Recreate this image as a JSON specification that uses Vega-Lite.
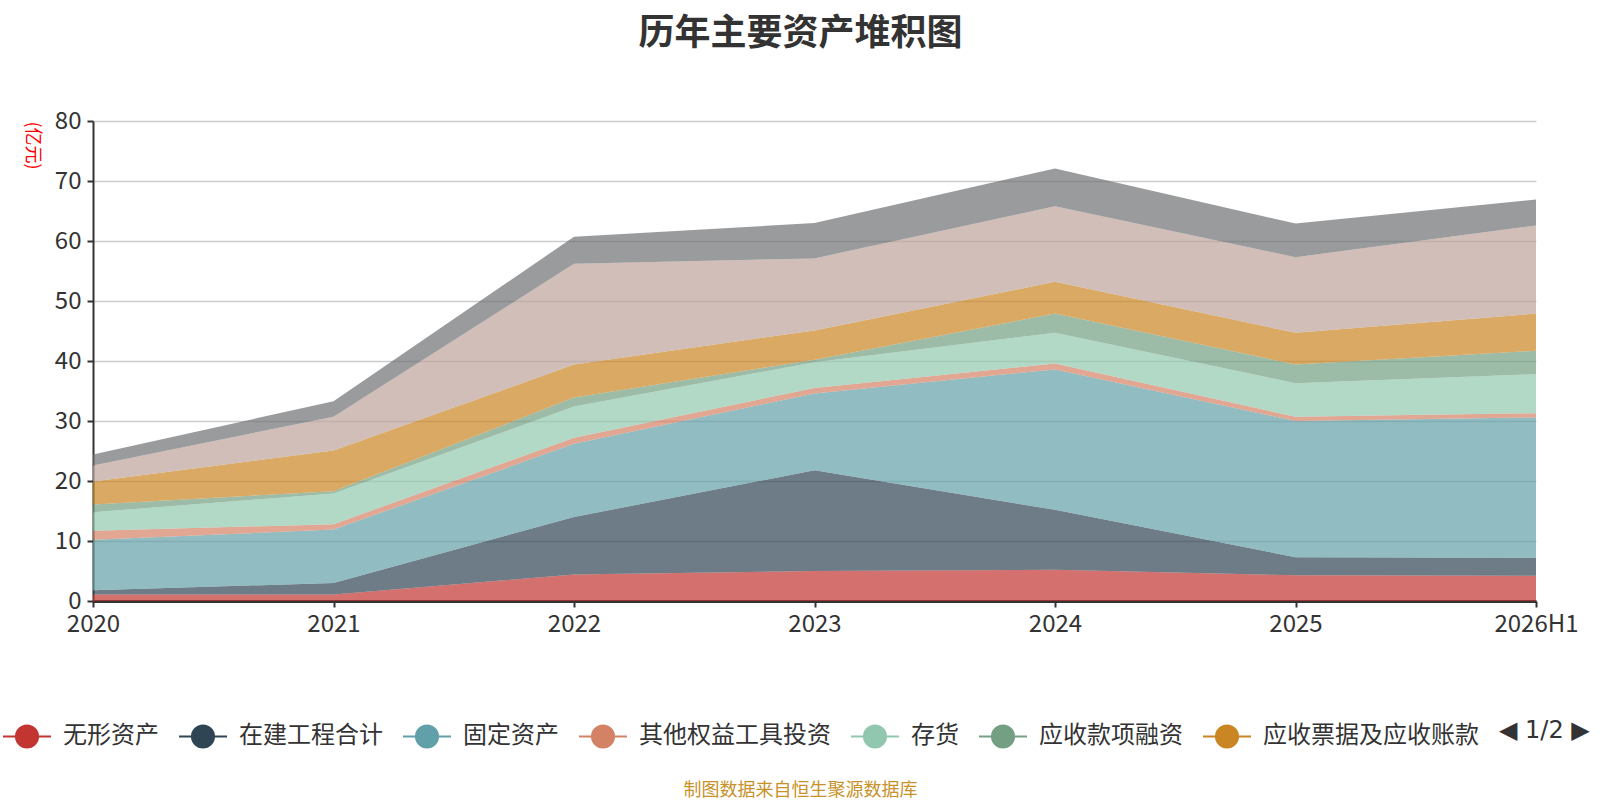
{
  "$schema": "https://vega.github.io/schema/vega-lite/v6.json",
  "width": 1443,
  "height": 480,
  "autosize": {"type": "none"},
  "padding": {"left": 93, "top": 121, "right": 64, "bottom": 199},
  "background": "white",
  "title": {
    "text": "历年主要资产堆积图",
    "fontSize": 36,
    "fontWeight": "bold",
    "font": "Noto Sans CJK SC",
    "color": "#333333",
    "anchor": "middle",
    "dx": -14,
    "offset": 56
  },
  "config": {
    "font": "Noto Sans CJK SC",
    "view": {"stroke": null},
    "axis": {"labelFont": "Noto Sans CJK SC", "titleFont": "Noto Sans CJK SC"}
  },
  "data": {
    "values": [
      {"year": "2020", "item": "无形资产", "value": 1.1},
      {"year": "2020", "item": "在建工程合计", "value": 0.7},
      {"year": "2020", "item": "固定资产", "value": 8.4},
      {"year": "2020", "item": "其他权益工具投资", "value": 1.5},
      {"year": "2020", "item": "存货", "value": 3.1},
      {"year": "2020", "item": "应收款项融资", "value": 1.3},
      {"year": "2020", "item": "应收票据及应收账款", "value": 3.8},
      {"year": "2020", "item": "交易性金融资产", "value": 2.7},
      {"year": "2020", "item": "货币资金", "value": 1.8},
      {"year": "2021", "item": "无形资产", "value": 1.1},
      {"year": "2021", "item": "在建工程合计", "value": 1.9},
      {"year": "2021", "item": "固定资产", "value": 8.9},
      {"year": "2021", "item": "其他权益工具投资", "value": 0.9},
      {"year": "2021", "item": "存货", "value": 5.1},
      {"year": "2021", "item": "应收款项融资", "value": 0.4},
      {"year": "2021", "item": "应收票据及应收账款", "value": 6.8},
      {"year": "2021", "item": "交易性金融资产", "value": 5.6},
      {"year": "2021", "item": "货币资金", "value": 2.6},
      {"year": "2022", "item": "无形资产", "value": 4.4},
      {"year": "2022", "item": "在建工程合计", "value": 9.6},
      {"year": "2022", "item": "固定资产", "value": 12.2},
      {"year": "2022", "item": "其他权益工具投资", "value": 1.0},
      {"year": "2022", "item": "存货", "value": 5.2},
      {"year": "2022", "item": "应收款项融资", "value": 1.5},
      {"year": "2022", "item": "应收票据及应收账款", "value": 5.5},
      {"year": "2022", "item": "交易性金融资产", "value": 16.8},
      {"year": "2022", "item": "货币资金", "value": 4.5},
      {"year": "2023", "item": "无形资产", "value": 5.0},
      {"year": "2023", "item": "在建工程合计", "value": 16.8},
      {"year": "2023", "item": "固定资产", "value": 12.8},
      {"year": "2023", "item": "其他权益工具投资", "value": 0.9},
      {"year": "2023", "item": "存货", "value": 4.3},
      {"year": "2023", "item": "应收款项融资", "value": 0.4},
      {"year": "2023", "item": "应收票据及应收账款", "value": 4.9},
      {"year": "2023", "item": "交易性金融资产", "value": 12.0},
      {"year": "2023", "item": "货币资金", "value": 5.9},
      {"year": "2024", "item": "无形资产", "value": 5.2},
      {"year": "2024", "item": "在建工程合计", "value": 10.0},
      {"year": "2024", "item": "固定资产", "value": 23.4},
      {"year": "2024", "item": "其他权益工具投资", "value": 1.0},
      {"year": "2024", "item": "存货", "value": 5.1},
      {"year": "2024", "item": "应收款项融资", "value": 3.2},
      {"year": "2024", "item": "应收票据及应收账款", "value": 5.3},
      {"year": "2024", "item": "交易性金融资产", "value": 12.6},
      {"year": "2024", "item": "货币资金", "value": 6.3},
      {"year": "2025", "item": "无形资产", "value": 4.3},
      {"year": "2025", "item": "在建工程合计", "value": 3.0},
      {"year": "2025", "item": "固定资产", "value": 22.7},
      {"year": "2025", "item": "其他权益工具投资", "value": 0.7},
      {"year": "2025", "item": "存货", "value": 5.6},
      {"year": "2025", "item": "应收款项融资", "value": 3.1},
      {"year": "2025", "item": "应收票据及应收账款", "value": 5.3},
      {"year": "2025", "item": "交易性金融资产", "value": 12.6},
      {"year": "2025", "item": "货币资金", "value": 5.6},
      {"year": "2026H1", "item": "无形资产", "value": 4.2},
      {"year": "2026H1", "item": "在建工程合计", "value": 3.0},
      {"year": "2026H1", "item": "固定资产", "value": 23.4},
      {"year": "2026H1", "item": "其他权益工具投资", "value": 0.7},
      {"year": "2026H1", "item": "存货", "value": 6.5},
      {"year": "2026H1", "item": "应收款项融资", "value": 3.9},
      {"year": "2026H1", "item": "应收票据及应收账款", "value": 6.2},
      {"year": "2026H1", "item": "交易性金融资产", "value": 14.7},
      {"year": "2026H1", "item": "货币资金", "value": 4.3}
    ]
  },
  "transform": [
    {"calculate": "indexof(['无形资产', '在建工程合计', '固定资产', '其他权益工具投资', '存货', '应收款项融资', '应收票据及应收账款', '交易性金融资产', '货币资金'], datum.item)", "as": "layer_rank"}
  ],
  "mark": {"type": "area", "fillOpacity": 0.7, "strokeWidth": 0},
  "encoding": {
    "x": {
      "field": "year",
      "type": "ordinal",
      "scale": {"type": "point", "padding": 0},
      "axis": {
        "labelAngle": 0,
        "labelFontSize": 24,
        "labelColor": "#333333",
        "labelPadding": 5,
        "domainColor": "#333333",
        "domainWidth": 3,
        "tickColor": "#333333",
        "tickWidth": 2,
        "tickSize": 6,
        "grid": false,
        "title": "制图数据来自恒生聚源数据库",
        "titleColor": "#c8922a",
        "titleFontSize": 18,
        "titleFontWeight": "normal",
        "titleX": 707,
        "titleY": 189,
        "titleBaseline": "middle",
        "titleAlign": "center"
      }
    },
    "y": {
      "field": "value",
      "type": "quantitative",
      "stack": "zero",
      "scale": {"domain": [0, 80], "nice": false},
      "axis": {
        "values": [0, 10, 20, 30, 40, 50, 60, 70, 80],
        "labelFontSize": 24,
        "labelColor": "#333333",
        "labelPadding": 6,
        "domainColor": "#333333",
        "domainWidth": 2,
        "tickColor": "#333333",
        "tickWidth": 2,
        "tickSize": 6,
        "gridColor": "#cccccc",
        "gridWidth": 1.5,
        "title": "(亿元)",
        "titleColor": "#ff0000",
        "titleFontSize": 18,
        "titleFontWeight": "normal",
        "titleAngle": 90,
        "titleX": -62,
        "titleY": 24,
        "titleAlign": "center",
        "titleBaseline": "middle"
      }
    },
    "color": {
      "field": "item",
      "type": "nominal",
      "sort": ["无形资产", "在建工程合计", "固定资产", "其他权益工具投资", "存货", "应收款项融资", "应收票据及应收账款", "交易性金融资产", "货币资金"],
      "scale": {
        "domain": ["无形资产", "在建工程合计", "固定资产", "其他权益工具投资", "存货", "应收款项融资", "应收票据及应收账款", "交易性金融资产", "货币资金"],
        "range": ["#c23531", "#2f4554", "#61a0a8", "#d48265", "#91c7ae", "#749f83", "#ca8622", "#bda29a", "#6e7074"]
      },
      "legend": {
        "orient": "none",
        "direction": "horizontal",
        "legendX": -91,
        "legendY": 590,
        "title": "◀ 1/2 ▶",
        "titleOrient": "right",
        "titleFont": "DejaVu Sans",
        "titleFontSize": 24,
        "titleFontWeight": "normal",
        "titleColor": "#333333",
        "titlePadding": 20,
        "titleBaseline": "middle",
        "values": ["无形资产", "在建工程合计", "固定资产", "其他权益工具投资", "存货", "应收款项融资", "应收票据及应收账款"],
        "symbolType": "M-1,0L1,0M-0.46,0A0.46,0.46,0,1,1,0.46,0A0.46,0.46,0,1,1,-0.46,0Z",
        "symbolSize": 2304,
        "symbolStrokeWidth": 2,
        "symbolOpacity": 1,
        "labelFontSize": 24,
        "labelColor": "#333333",
        "labelOffset": 11,
        "labelLimit": 0,
        "columnPadding": 16,
        "encode": {
          "symbols": {
            "update": {
              "stroke": {"scale": "color", "field": "value"},
              "fill": {"scale": "color", "field": "value"},
              "fillOpacity": {"value": 1},
              "strokeOpacity": {"value": 1},
              "opacity": {"value": 1}
            }
          }
        }
      }
    },
    "order": {"field": "layer_rank", "type": "quantitative", "sort": "ascending"}
  }
}
